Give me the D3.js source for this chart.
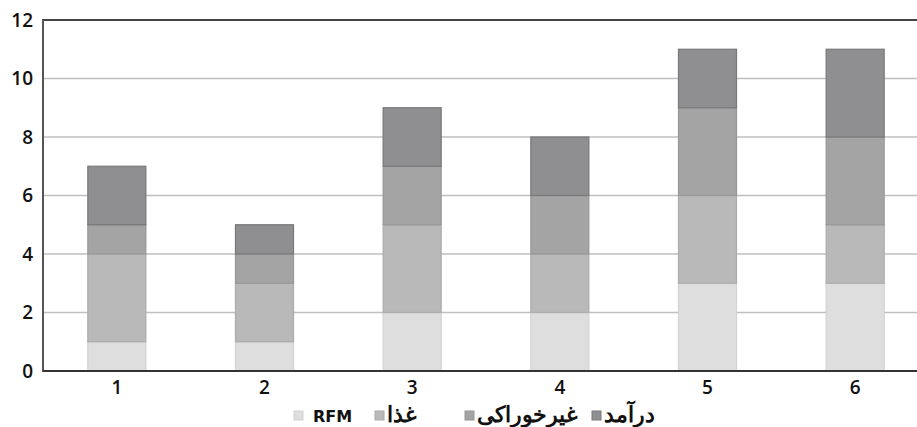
<!DOCTYPE html>
<html>
<head>
<meta charset="utf-8">
<script src="https://cdn.jsdelivr.net/npm/d3@7"></script>
<style>
  html, body { margin: 0; padding: 0; background: #fff; }
  svg { display: block; }
</style>
</head>
<body>
<svg id="chart" width="917" height="427"></svg>
<script>
// Stacked bars: four components for each of six groups
const categories = ["1", "2", "3", "4", "5", "6"];
const seriesNames = ["RFM", "غذا", "غیرخوراکی", "درآمد"];
const rfm       = [1, 1, 2, 2, 3, 3];
const food      = [3, 2, 3, 2, 3, 2];
const nonFood   = [1, 1, 2, 2, 3, 3];
const income    = [2, 1, 2, 2, 2, 3];
const yTicks    = [0, 2, 4, 6, 8, 10, 12];

const fills   = ["#dedede", "#b9b9b9", "#a4a4a4", "#8f8f91"];
const strokes = ["#d2d2d2", "#acacac", "#979797", "#78787a"];

const rows = categories.map((c, i) => ({
  cat: c,
  "RFM": rfm[i],
  "غذا": food[i],
  "غیرخوراکی": nonFood[i],
  "درآمد": income[i]
}));
const stacked = d3.stack().keys(seriesNames)(rows);

const svg = d3.select("#chart");
const plotLeft = 43, plotTop = 20, plotBottom = 371, plotRight = 929;

const x = d3.scaleBand().domain(categories).range([plotLeft, plotRight])
  .paddingInner(0.607).paddingOuter(0.3035);
const y = d3.scaleLinear().domain([0, 12]).range([plotBottom, plotTop]);

// horizontal gridlines
svg.append("g").selectAll("line")
  .data(yTicks.filter(t => t > 0 && t < 12))
  .join("line")
  .attr("x1", plotLeft).attr("x2", 917)
  .attr("y1", d => y(d)).attr("y2", d => y(d))
  .attr("stroke", "#bfbfbf").attr("stroke-width", 1.5);

// bar segments
svg.append("g").selectAll("g")
  .data(stacked)
  .join("g")
  .attr("fill", (d, i) => fills[i])
  .attr("stroke", (d, i) => strokes[i])
  .selectAll("rect")
  .data(d => d)
  .join("rect")
  .attr("x", d => x(d.data.cat))
  .attr("width", x.bandwidth())
  .attr("y", d => y(d[1]))
  .attr("height", d => y(d[0]) - y(d[1]))
  .attr("stroke-width", 1.2);

// frame: top border, left axis, bottom axis
svg.append("line").attr("x1", plotLeft).attr("x2", 917).attr("y1", plotTop).attr("y2", plotTop)
  .attr("stroke", "#444").attr("stroke-width", 2);
svg.append("line").attr("x1", plotLeft).attr("x2", plotLeft).attr("y1", plotTop - 1).attr("y2", plotBottom + 1)
  .attr("stroke", "#555").attr("stroke-width", 2);
svg.append("line").attr("x1", plotLeft).attr("x2", 917).attr("y1", plotBottom).attr("y2", plotBottom)
  .attr("stroke", "#333").attr("stroke-width", 2);

const font = "'Open Sans', 'Noto Sans', sans-serif";

// y tick labels
svg.append("g").selectAll("text")
  .data(yTicks)
  .join("text")
  .attr("x", 33)
  .attr("y", d => y(d))
  .attr("dy", "0.36em")
  .attr("text-anchor", "end")
  .attr("font-family", font)
  .attr("font-size", 19)
  .attr("font-weight", 600)
  .attr("fill", "#111")
  .text(d => d);

// x tick labels
svg.append("g").selectAll("text")
  .data(categories)
  .join("text")
  .attr("x", d => x(d) + x.bandwidth() / 2)
  .attr("y", 394)
  .attr("text-anchor", "middle")
  .attr("font-family", font)
  .attr("font-size", 19)
  .attr("font-weight", 600)
  .attr("fill", "#111")
  .text(d => d);

// legend
const legendX = [294, 375, 465, 592];
const legend = svg.append("g").selectAll("g")
  .data(seriesNames)
  .join("g")
  .attr("transform", (d, i) => `translate(${legendX[i]},0)`);
legend.append("rect")
  .attr("x", 0).attr("y", 411).attr("width", 9).attr("height", 9)
  .attr("fill", (d, i) => fills[i])
  .attr("stroke", (d, i) => strokes[i]);
legend.append("text")
  .attr("x", (d, i) => i === 0 ? 19 : 12)
  .attr("y", 422)
  .attr("font-family", (d, i) => i === 0 ? "'DejaVu Sans', sans-serif" : "'Noto Sans', sans-serif")
  .attr("font-size", (d, i) => i === 0 ? 16 : 22)
  .attr("font-weight", 700)
  .attr("fill", "#111")
  .text(d => d);
</script>
</body>
</html>
